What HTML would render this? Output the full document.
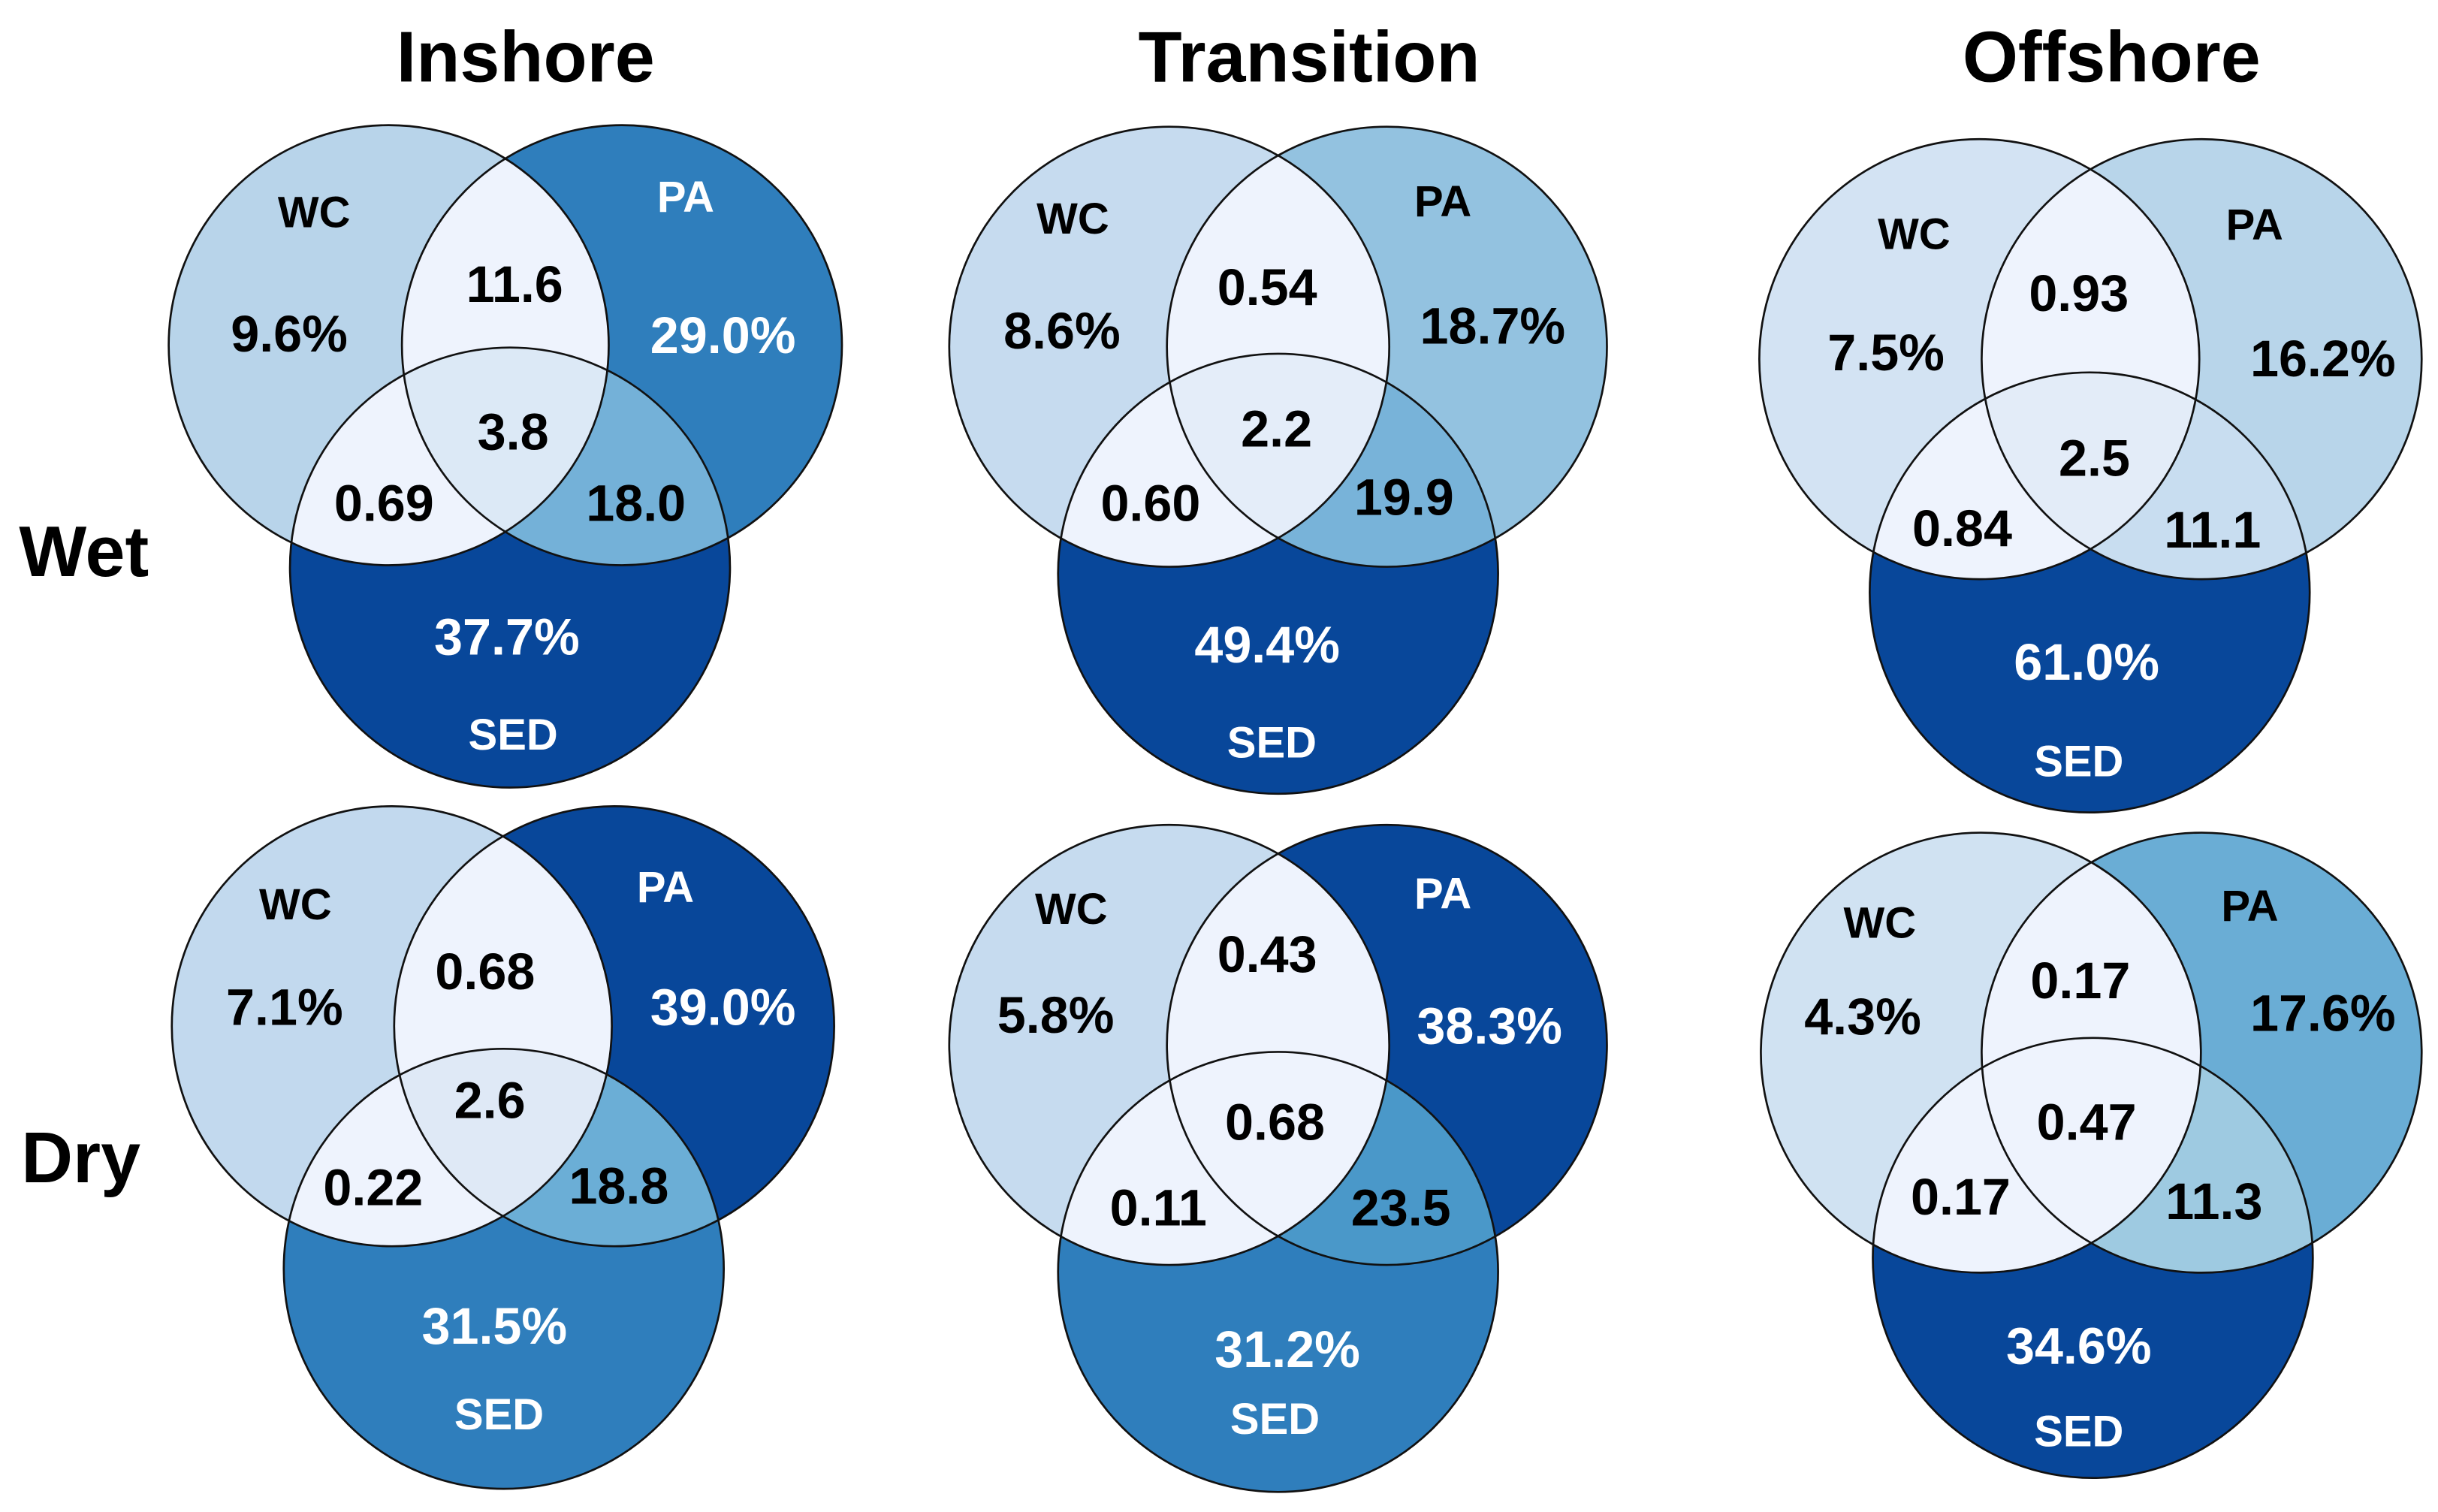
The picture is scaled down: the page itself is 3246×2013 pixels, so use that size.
<!DOCTYPE html>
<html><head><meta charset="utf-8">
<style>
html,body{margin:0;padding:0;background:#fff;}
svg{display:block;}
text{font-family:"Liberation Sans",Arial,sans-serif;font-weight:bold;text-anchor:middle;dominant-baseline:central;}
</style></head>
<body>
<svg id="chart" width="3246" height="2013" viewBox="0 0 1568 972.4" preserveAspectRatio="none" xmlns="http://www.w3.org/2000/svg">
<rect width="1568" height="972.4" fill="#fff"/>
<text x="338" y="37" font-size="46" fill="#000">Inshore</text>
<text x="842" y="37" font-size="46" fill="#000">Transition</text>
<text x="1358" y="37" font-size="46" fill="#000">Offshore</text>
<text x="54" y="355" font-size="46" fill="#000">Wet</text>
<text x="52" y="745" font-size="46" fill="#000">Dry</text>
</svg>
<script>
// Data: panel names and region values (WC only, PA only, SED only, WC∩PA, WC∩SED, PA∩SED, all)
const panelNames = ["inshore-wet","transition-wet","offshore-wet","inshore-dry","transition-dry","offshore-dry"];
const wcOnly  = ["9.6%","8.6%","7.5%","7.1%","5.8%","4.3%"];
const paOnly  = ["29.0%","18.7%","16.2%","39.0%","38.3%","17.6%"];
const sedOnly = ["37.7%","49.4%","61.0%","31.5%","31.2%","34.6%"];
const wcPa    = ["11.6","0.54","0.93","0.68","0.43","0.17"];
const wcSed   = ["0.69","0.60","0.84","0.22","0.11","0.17"];
const paSed   = ["18.0","19.9","11.1","18.8","23.5","11.3"];
const allThree= ["3.8","2.2","2.5","2.6","0.68","0.47"];

// Layout (not data)
const geom = [
 {wc:[250,222],pa:[400,222],sed:[328,365]},
 {wc:[752,223],pa:[892,223],sed:[822,369]},
 {wc:[1273,231],pa:[1416,231],sed:[1344,381]},
 {wc:[252,660],pa:[395,660],sed:[324,816]},
 {wc:[752,672],pa:[892,672],sed:[822,818]},
 {wc:[1274,677],pa:[1416,677],sed:[1346,809]}
];
const R = 141.5;
const colors = [
 ["#b8d4ea","#2f7ebc","#08479a","#eef3fd","#eef3fd","#74b1d8","#dce9f6"],
 ["#c6dbef","#93c2e0","#08479a","#eef3fd","#eef3fd","#78b3d9","#e4edf9"],
 ["#d3e3f3","#b8d5ea","#08479a","#eef3fd","#eef3fd","#c8ddf0","#e3ecf8"],
 ["#c2d9ee","#08479a","#2f7ebc","#eef3fd","#eef3fd","#6baed6","#dfe9f6"],
 ["#c6dbef","#08479a","#2f7ebc","#eef3fd","#eef3fd","#4a98c9","#eef3fd"],
 ["#d0e2f2","#6aadd5","#08479a","#eef3fd","#eef3fd","#9ecae1","#eef3fd"]
];
const tpos = [
 [[202,137],[186,215],[441,127],[465,216],[331,183],[330,278],[247,324],[409,324],[326,410],[330,473]],
 [[690,141],[683,213],[928,130],[960,210],[815,185],[821,276],[740,324],[903,320],[815,415],[818,478]],
 [[1231,151],[1213,227],[1450,145],[1494,231],[1337,189],[1347,295],[1262,340],[1423,341],[1342,426],[1337,490]],
 [[190,582],[183,648],[428,571],[465,648],[312,625],[315,708],[240,764],[398,763],[318,853],[321,910]],
 [[689,585],[679,653],[928,575],[958,660],[815,614],[820,722],[745,777],[901,777],[828,868],[820,913]],
 [[1209,594],[1198,654],[1447,583],[1494,652],[1338,631],[1342,722],[1261,770],[1424,773],[1337,866],[1337,921]]
];
const NS = "http://www.w3.org/2000/svg";
const svg = document.getElementById("chart");
const defs = document.createElementNS(NS,"defs");
svg.insertBefore(defs, svg.firstChild.nextSibling);
function isDark(c){ return c==="#08479a"||c==="#2f7ebc"; }
function mk(tag, attrs){ const e=document.createElementNS(NS,tag); for(const k in attrs) e.setAttribute(k,attrs[k]); return e; }

panelNames.forEach((name,i)=>{
  const g = geom[i], col = colors[i];
  const grp = mk("g",{});
  
  
  svg.appendChild(grp);
  const circ = k => mk("circle",{cx:g[k][0],cy:g[k][1],r:R});
  ["wc","pa","sed"].forEach(k=>{
    const cp = mk("clipPath",{id:"cp-"+i+"-"+k});
    cp.appendChild(circ(k));
    defs.appendChild(cp);
  });
  const fills = [["wc",0],["pa",1],["sed",2]];
  fills.forEach(([k,ci])=>{
    const c = circ(k); c.setAttribute("fill",col[ci]);
    
    
    grp.appendChild(c);
  });
  const inter = (a,b,ci,label,third)=>{
    const gg = mk("g",{"clip-path":"url(#cp-"+i+"-"+b+")"});
    let c = circ(a); c.setAttribute("fill",col[ci]);
    
    
    if(third){ const g3 = mk("g",{"clip-path":"url(#cp-"+i+"-"+third+")"}); g3.appendChild(c); gg.appendChild(g3); }
    else gg.appendChild(c);
    grp.appendChild(gg);
  };
  inter("wc","pa",3,"wc-pa");
  inter("wc","sed",4,"wc-sed");
  inter("pa","sed",5,"pa-sed");
  inter("wc","pa",6,"all-three","sed");
  ["wc","pa","sed"].forEach(k=>{
    const c = circ(k); c.setAttribute("fill","none"); c.setAttribute("stroke","#111"); c.setAttribute("stroke-width","1.3");
    
    
    grp.appendChild(c);
  });
  const tp = tpos[i];
  const items = [
    ["WC",col[0],28,"wc-label"],[wcOnly[i],col[0],33,"wc-only-value"],
    ["PA",col[1],28,"pa-label"],[paOnly[i],col[1],33,"pa-only-value"],
    [wcPa[i],col[3],33,"wc-pa-value"],[allThree[i],col[6],33,"all-three-value"],
    [wcSed[i],col[4],33,"wc-sed-value"],[paSed[i],col[5],33,"pa-sed-value"],
    [sedOnly[i],col[2],33,"sed-only-value"],["SED",col[2],28,"sed-label"]
  ];
  items.forEach((it,j)=>{
    const t = mk("text",{x:tp[j][0],y:tp[j][1],"font-size":it[2],fill:isDark(it[1])?"#fff":"#000"});
    t.textContent = it[0];
    
    
    grp.appendChild(t);
  });
});
</script>
</body></html>
